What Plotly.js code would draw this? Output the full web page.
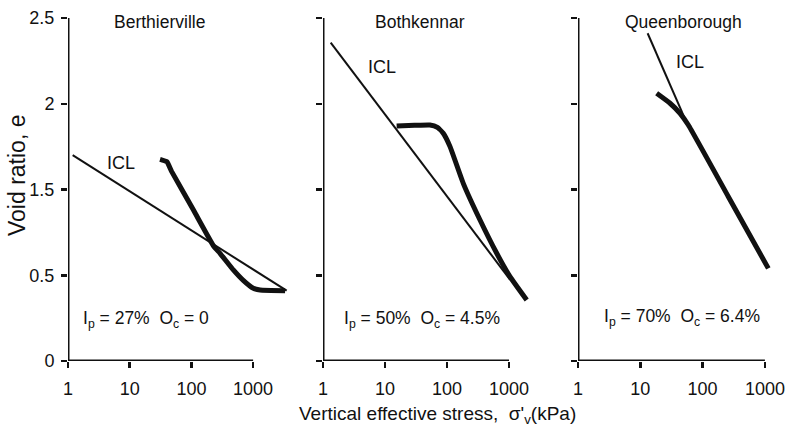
<!DOCTYPE html>
<html><head><meta charset="utf-8">
<script src="https://cdn.plot.ly/plotly-3.0.1.min.js"></script>
<style>html,body{margin:0;padding:0;background:#fff;}#chart{width:787px;height:431px;}</style>
</head><body><div id="chart"></div>
<script>
// Panel names
const sites = ['Berthierville', 'Bothkennar', 'Queenborough'];
const siteNotes = ['I<sub>p</sub> = 27%\u00a0\u00a0O<sub>c</sub> = 0', 'I<sub>p</sub> = 50%\u00a0\u00a0O<sub>c</sub> = 4.5%', 'I<sub>p</sub> = 70%\u00a0\u00a0O<sub>c</sub> = 6.4%'];

// Berthierville
const bertIclX = [1.19, 3500];
const bertIclE = [1.70, 0.91];
const bertX = [31, 40, 48, 108, 232, 291, 478, 693, 1007, 1300, 3300];
const bertE = [1.676, 1.662, 1.604, 1.38, 1.167, 1.128, 1.031, 0.97, 0.924, 0.914, 0.91];

// Bothkennar
const bothIclX = [1.33, 1038];
const bothIclE = [2.356, 0.975];
const bothX = [15.4, 30, 53, 70, 87, 112, 183, 341, 634, 1038, 1930];
const bothE = [1.870, 1.874, 1.876, 1.862, 1.828, 1.750, 1.536, 1.322, 1.128, 0.992, 0.856];

// Queenborough
const queenIclX = [13.1, 56];
const queenIclE = [2.411, 1.886];
const queenX = [18.3, 30, 43.4, 59, 259, 1135];
const queenE = [2.061, 2.003, 1.944, 1.876, 1.458, 1.04];

// Axis ticks
const xTickVals = [1, 10, 100, 1000];
const xTickText = ['1', '10', '100', '1000'];
const yTickVals = [0.5, 1, 1.5, 2, 2.5];
const yTickText = ['0', '0.5', '1.5', '2', '2.5'];

const FONT = 'Liberation Sans, Arial, Helvetica, sans-serif';
const thin = {color: '#111', width: 2};
const thick = {color: '#111', width: 5, shape: 'spline', smoothing: 0.4};

const traces = [
  {x: bertIclX, y: bertIclE, xaxis: 'x', yaxis: 'y', mode: 'lines', line: thin, name: 'ICL'},
  {x: bertX, y: bertE, xaxis: 'x', yaxis: 'y', mode: 'lines', line: thick, name: sites[0]},
  {x: bothIclX, y: bothIclE, xaxis: 'x2', yaxis: 'y2', mode: 'lines', line: thin, name: 'ICL'},
  {x: bothX, y: bothE, xaxis: 'x2', yaxis: 'y2', mode: 'lines', line: thick, name: sites[1]},
  {x: queenIclX, y: queenIclE, xaxis: 'x3', yaxis: 'y3', mode: 'lines', line: thin, name: 'ICL'},
  {x: queenX, y: queenE, xaxis: 'x3', yaxis: 'y3', mode: 'lines', line: thick, name: sites[2]}
];

const W = 787, H = 431;
const yDom = [70 / H, 413 / H];
function xAx(dom, rng, extra) {
  return Object.assign({
    type: 'log', domain: dom, range: rng, showgrid: false, zeroline: false, showline: false,
    tickvals: xTickVals, ticktext: xTickText, ticks: 'outside', ticklen: 6, tickwidth: 2.5, tickcolor: '#111',
    tickfont: {family: FONT, size: 18, color: '#111'}, ticklabelstandoff: 5, fixedrange: true
  }, extra || {});
}
function yAx(anchor, showLabels, extra) {
  return Object.assign({
    domain: yDom, range: [0.5, 2.5], anchor: anchor, showgrid: false, zeroline: false, showline: false,
    tickvals: yTickVals, ticktext: yTickText, showticklabels: showLabels,
    ticks: 'outside', ticklen: 6, tickwidth: 2.5, tickcolor: '#111',
    tickfont: {family: FONT, size: 18, color: '#111'}, ticklabelstandoff: 3, fixedrange: true
  }, extra || {});
}

const layout = {
  width: W, height: H, margin: {l: 0, r: 0, t: 0, b: 0},
  paper_bgcolor: '#fff', plot_bgcolor: 'rgba(0,0,0,0)', showlegend: false,
  font: {family: FONT, color: '#111'},
  xaxis: xAx([68 / W, (68 + 3.6 * 61.7) / W], [0, 3.6], {anchor: 'y'}),
  xaxis2: xAx([323 / W, (323 + 3.4 * 62) / W], [0, 3.4], {anchor: 'y2'}),
  xaxis3: xAx([578 / W, (578 + 3.3 * 62.3) / W], [0, 3.3], {anchor: 'y3'}),
  yaxis: yAx('x', true),
  yaxis2: yAx('x2', false),
  yaxis3: yAx('x3', false),
  shapes: [],
  annotations: [
    {text: 'Vertical effective stress,\u00a0\u00a0σ\'<sub>v</sub>(kPa)', xref: 'paper', yref: 'paper',
      x: 437 / W, y: 1 - 415 / H, xanchor: 'center', yanchor: 'middle', showarrow: false,
      font: {family: FONT, size: 19, color: '#111'}},
    {text: 'Void ratio, e', xref: 'paper', yref: 'paper', textangle: -90,
      x: 17 / W, y: 1 - 176 / H, xanchor: 'center', yanchor: 'middle', showarrow: false,
      font: {family: FONT, size: 23, color: '#111'}}
  ]
};

// axis lines (x from 1 to 1000, y from bottom to top)
[['x', 'y'], ['x2', 'y2'], ['x3', 'y3']].forEach(function (p) {
  layout.shapes.push({type: 'line', xref: p[0], yref: p[1], x0: 1, x1: 1000, y0: 0.5, y1: 0.5, line: {color: '#111', width: 3}});
  layout.shapes.push({type: 'line', xref: p[0], yref: p[1], x0: 1, x1: 1, y0: 0.5, y1: 2.5, line: {color: '#111', width: 3}});
});

const titlePos = [[159, 22], [420, 22], [683, 22]];
const iclPos = [[121, 163], [382, 67], [690, 62]];
const notePos = [[81, 319], [342, 319], [602, 317]];
for (let i = 0; i < 3; i++) {
  layout.annotations.push({text: sites[i], xref: 'paper', yref: 'paper', x: titlePos[i][0] / W, y: 1 - titlePos[i][1] / H,
    xanchor: 'center', yanchor: 'middle', showarrow: false, font: {family: FONT, size: 17.5, color: '#111'}});
  layout.annotations.push({text: 'ICL', xref: 'paper', yref: 'paper', x: iclPos[i][0] / W, y: 1 - iclPos[i][1] / H,
    xanchor: 'center', yanchor: 'middle', showarrow: false, font: {family: FONT, size: 18, color: '#111'}});
  layout.annotations.push({text: siteNotes[i], xref: 'paper', yref: 'paper', x: notePos[i][0] / W, y: 1 - notePos[i][1] / H,
    xanchor: 'left', yanchor: 'middle', showarrow: false, font: {family: FONT, size: 17.5, color: '#111'}});
}

Plotly.newPlot('chart', traces, layout, {staticPlot: true, displayModeBar: false});
</script></body></html>
